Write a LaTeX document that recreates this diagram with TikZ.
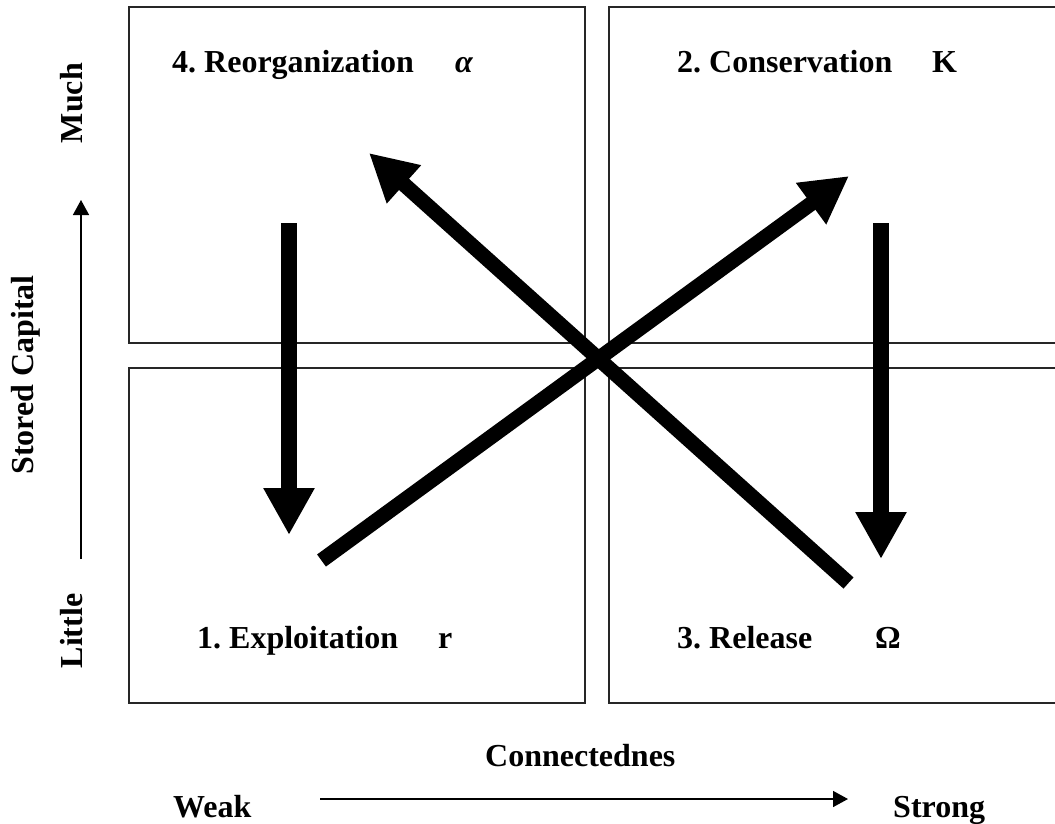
\documentclass[tikz,border=0pt]{standalone}
\usepackage{fontspec}
\setmainfont{Liberation Serif}
\usetikzlibrary{arrows.meta}
\frenchspacing
\begin{document}
\begin{tikzpicture}[x=1pt,y=-1pt,
  quad/.style={draw=black!85, line width=1.5pt, rectangle, inner sep=0pt},
  lbl/.style={font=\fontsize{32}{38}\selectfont\bfseries, inner sep=0pt, anchor=base west},
  vlbl/.style={font=\fontsize{32}{38}\selectfont\bfseries, inner sep=0pt, anchor=base, rotate=90},
  bigarrow/.style={line width=16pt, -{Triangle[length=47pt,width=48pt]}},
  diagarrow/.style={line width=15pt, -{Triangle[length=47pt,width=48pt]}},
  axisarrow/.style={line width=1.5pt, -{Triangle[length=15pt,width=16pt]}}]
\clip (0,0) rectangle (1055,823);
% quadrants
\node[quad, minimum width=456pt, minimum height=336pt] (q4) at (357,175) {};
\node[quad, minimum width=461pt, minimum height=336pt] (q2) at (839.5,175) {};
\node[quad, minimum width=456pt, minimum height=335pt] (q1) at (357,535.5) {};
\node[quad, minimum width=461pt, minimum height=335pt] (q3) at (839.5,535.5) {};
% labels
\node[lbl] (t4) at (172,72) {4. Reorganization};
\node[lbl] (g4) at (455,72) {\itshape α};
\node[lbl] (t2) at (677,72) {2. Conservation};
\node[lbl] (g2) at (932,72) {K};
\node[lbl] (t1) at (197,648) {1. Exploitation};
\node[lbl] (g1) at (438,648) {r};
\node[lbl] (t3) at (677,648) {3. Release};
\node[lbl] (g3) at (875,648) {Ω};
% arrows
\coordinate (a1s) at (289,223); \coordinate (a1e) at (289,535);
\coordinate (a2s) at (881,223); \coordinate (a2e) at (881,559);
\coordinate (d1s) at (848.5,583); \coordinate (d1e) at (369,153);
\coordinate (d2s) at (321.5,560.5); \coordinate (d2e) at (849,176);
\draw[bigarrow] (a1s) -- (a1e);
\draw[bigarrow] (a2s) -- (a2e);
\draw[diagarrow] (d1s) -- (d1e);
\draw[diagarrow] (d2s) -- (d2e);
% vertical axis
\node[vlbl] (much) at (82,103) {Much};
\node[vlbl] (stored) at (33,375) {Stored Capital};
\node[vlbl] (little) at (82,631) {Little};
\coordinate (vs) at (81,559); \coordinate (ve) at (81,200);
\draw[axisarrow] (vs) -- (ve);
% horizontal axis
\node[lbl] (conn) at (485,766) {Connectednes};
\node[lbl] (weak) at (173,817) {Weak};
\node[lbl] (strong) at (893,817) {Strong};
\coordinate (hs) at (320,799); \coordinate (he) at (848,799);
\draw[axisarrow] (hs) -- (he);
\end{tikzpicture}
\end{document}
